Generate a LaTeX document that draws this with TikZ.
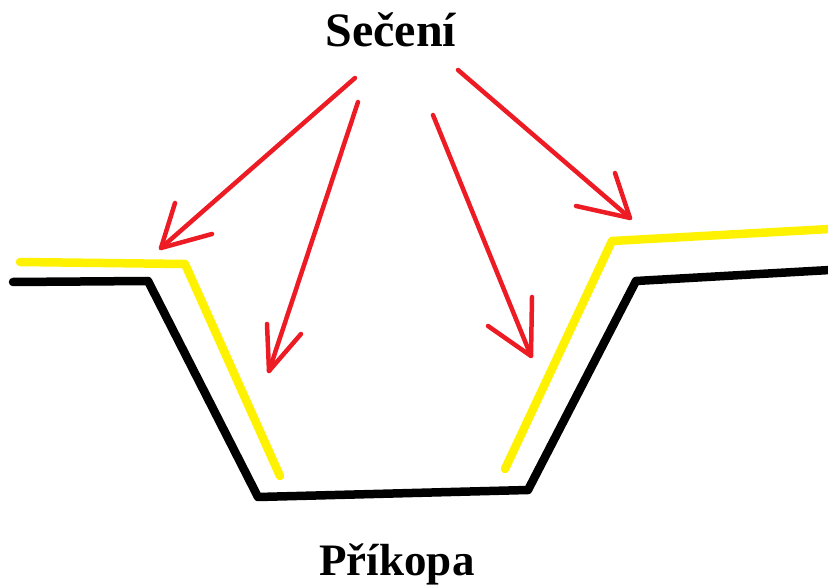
\documentclass[tikz,border=0pt]{standalone}
\usepackage{fontspec}
\setmainfont{Liberation Serif}
\definecolor{pred}{RGB}{237,28,36}
\definecolor{pyellow}{RGB}{255,242,0}
\begin{document}
\begin{tikzpicture}[x=1pt,y=-1pt,
  ground/.style={line width=8.5pt,line join=round,line cap=round},
  cutline/.style={pyellow,line width=8.5pt,line join=round,line cap=round},
  redline/.style={pred,line width=4.5pt,line cap=round,line join=round},
  lbl/.style={font=\bfseries,anchor=base,inner sep=0pt}]
\useasboundingbox (0,0) rectangle (828,585);
% black ground profile
\coordinate (b1) at (13,282);
\coordinate (b2) at (148,281);
\coordinate (b3) at (258,497);
\coordinate (b4) at (528,490);
\coordinate (b5) at (636,281);
\coordinate (b6) at (830,270);
\draw[ground] (b1) -- (b2) -- (b3) -- (b4) -- (b5) -- (b6);
% yellow cut lines
\coordinate (y1) at (20,262);
\coordinate (y2) at (185,264);
\coordinate (y3) at (280,476);
\coordinate (y4) at (505,469);
\coordinate (y5) at (612,241);
\coordinate (y6) at (830,229);
\draw[cutline] (y1) -- (y2) -- (y3);
\draw[cutline] (y4) -- (y5) -- (y6);
% labels
\node[lbl,font=\bfseries\fontsize{48}{52}\selectfont] (top) at (391,47) {Sečení};
\node[lbl,font=\bfseries\fontsize{45}{50}\selectfont] (bot) at (397,575) {Příkopa};
% arrows
\coordinate (s1) at (355,78);  \coordinate (t1) at (161,248);
\coordinate (s2) at (358,102); \coordinate (t2) at (269,371);
\coordinate (s3) at (433,115); \coordinate (t3) at (531,356);
\coordinate (s4) at (458,70);  \coordinate (t4) at (630,218);
\draw[redline] (s1) -- (t1);
\draw[redline] (175,203) -- (t1) -- (212,234);
\draw[redline] (s2) -- (t2);
\draw[redline] (267,324) -- (t2) -- (301,334);
\draw[redline] (s3) -- (t3);
\draw[redline] (488,326) -- (t3) -- (532,297);
\draw[redline] (s4) -- (t4);
\draw[redline] (615,173) -- (t4) -- (576,206);
\end{tikzpicture}
\end{document}
